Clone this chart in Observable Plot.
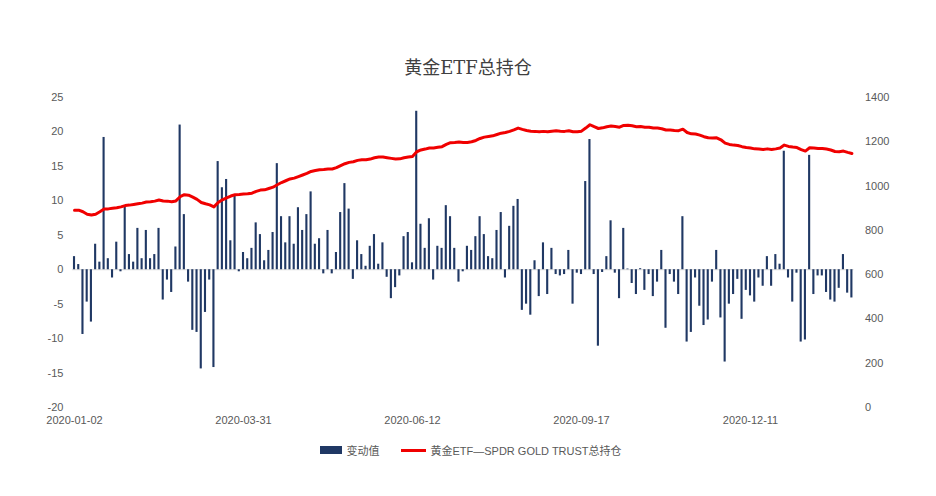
<!DOCTYPE html>
<html>
<head>
<meta charset="utf-8">
<script src="https://cdn.jsdelivr.net/npm/d3@7"></script>
<script src="https://cdn.jsdelivr.net/npm/@observablehq/plot@0.6"></script>
<style>
  body { margin: 0; background: #fff; width: 936px; height: 496px; overflow: hidden;
         font-family: "Liberation Sans", "Noto Sans CJK SC", sans-serif; }
  #title { height: 80px; box-sizing: border-box; padding-top: 56px; text-align: center;
           font-size: 18px; line-height: 24px; color: #404040;
           font-family: "DejaVu Serif", "Noto Sans CJK SC", serif; }
  #chart svg { display: block; }
  #legend { height: 20px; display: flex; justify-content: center; align-items: center;
            font-size: 11px; color: #595959; padding-left: 6px; }
  .sw { display: inline-block; margin-right: 4px; }
  .item { display: flex; align-items: center; }
</style>
</head>
<body>
<div id="title">黄金ETF总持仓</div>
<div id="chart"></div>
<div id="legend">
  <div class="item"><span class="sw" style="width:22px;height:8px;background:#203864"></span><span>变动值</span></div>
  <div class="item" style="margin-left:22px"><span class="sw" style="width:25px;height:3px;background:#F00000"></span><span>黄金ETF—SPDR GOLD TRUST总持仓</span></div>
</div>
<script>
// Daily change (left axis)
const changes = [
  1.9, 0.75, -9.4, -4.7, -7.6, 3.7, 1.1, 19.2, 1.6, -1.2,
  4.0, -0.3, 9.2, 2.2, 1.1, 6.0, 1.6, 5.7, 1.6, 2.2,
  6.0, -4.4, -1.5, -3.3, 3.3, 21.0, 8.0, -1.8, -8.8, -9.1,
  -14.4, -6.2, -1.5, -14.2, 15.7, 11.9, 13.1, 4.2, 10.8, -0.3,
  2.5, 1.6, 3.1, 6.8, 5.1, 1.3, 2.8, 5.4, 15.4, 7.7,
  3.9, 7.7, 3.7, 9.0, 5.7, 8.0, 11.3, 3.7, 4.5, -0.6,
  5.7, -0.6, 2.5, 8.3, 12.5, 8.8, -1.4, 4.2, 2.2, 0.5,
  3.4, 5.1, 0.8, 3.9, -1.1, -4.2, -2.6, -0.9, 4.8, 5.4,
  1.0, 23.0, 6.6, 3.1, 7.4, -1.5, 3.4, 3.1, 9.3, 7.7,
  3.1, -1.8, -0.3, 3.4, 2.8, 4.8, 7.7, 5.1, 1.9, 1.6,
  5.7, 8.3, -1.2, 6.3, 9.2, 10.2, -5.9, -5.0, -6.6, 1.3,
  -3.9, 3.9, -3.6, 3.1, -0.7, -0.9, -0.7, 2.8, -5.0, -0.5,
  -0.7, 12.8, 18.9, -0.7, -11.1, -0.4, 1.9, 7.1, -0.5, -4.2,
  6.0, 0.1, -2.0, -3.6, 0.15, -3.0, -0.7, -3.9, -1.8, 2.8,
  -8.5, -0.7, -1.8, -3.6, 7.7, -10.5, -9.1, -1.2, -5.3, -8.1,
  -7.3, -1.8, 2.8, -7.0, -13.4, -5.0, -3.6, -1.4, -7.2, -3.0,
  -3.8, -4.7, -1.2, -2.4, 1.9, -2.4, 2.2, 0.8, 17.2, -1.2,
  -4.7, -0.5, -10.5, -10.2, 16.6, -3.6, -0.9, -0.9, -3.3, -4.4,
  -4.7, -2.7, 2.2, -3.4, -4.1
];
// Total holdings (right axis)
const holdings = [
  891, 891, 884, 873, 869, 873, 884, 896, 897, 900,
  902, 906, 912, 914, 917, 920, 923, 928, 929, 932,
  937, 933, 932, 929, 933, 952, 961, 959, 950, 940,
  926, 920, 915, 906, 926, 938, 947, 955, 961, 962,
  964, 965, 968, 976, 982, 983, 989, 995, 1006, 1016,
  1024, 1032, 1036, 1043, 1050, 1057, 1066, 1070, 1074, 1075,
  1077, 1077, 1083, 1092, 1101, 1107, 1110, 1116, 1119, 1119,
  1122, 1128, 1131, 1131, 1128, 1125, 1122, 1123, 1128, 1131,
  1134, 1155, 1163, 1167, 1172, 1172, 1175, 1178, 1188, 1196,
  1197, 1199, 1197, 1197, 1200, 1206, 1215, 1221, 1224, 1227,
  1233, 1239, 1242, 1247, 1254, 1262, 1256, 1251, 1248, 1247,
  1245, 1247, 1245, 1248, 1250, 1248, 1247, 1250, 1245, 1245,
  1248, 1262, 1277, 1268, 1260, 1263, 1268, 1271, 1269, 1266,
  1274, 1275, 1272, 1268, 1269, 1266, 1266, 1262, 1262, 1259,
  1253, 1253, 1251, 1250, 1257, 1242, 1236, 1235, 1230, 1223,
  1218, 1217, 1218, 1209, 1194, 1188, 1185, 1183, 1178, 1174,
  1172, 1168, 1167, 1165, 1168, 1165, 1168, 1172, 1185, 1179,
  1176, 1174, 1165, 1158, 1173, 1172, 1170, 1170, 1167, 1163,
  1156, 1155, 1158, 1152, 1147
];
const xTickPos = [0, 40, 80, 120, 160];
const xTickLabels = ["2020-01-02", "2020-03-31", "2020-06-12", "2020-09-17", "2020-12-11"];
const leftTicks = [-20, -15, -10, -5, 0, 5, 10, 15, 20, 25];
const rightTicks = [0, 200, 400, 600, 800, 1000, 1200, 1400];
const leftDomain = [-20, 25];
const rightDomain = [0, 1400];

// map right-axis values onto the shared y scale
const toLeft = v => leftDomain[0] + (v - rightDomain[0]) * (leftDomain[1] - leftDomain[0]) / (rightDomain[1] - rightDomain[0]);
const toRight = y => rightDomain[0] + (y - leftDomain[0]) * (rightDomain[1] - rightDomain[0]) / (leftDomain[1] - leftDomain[0]);

const idx = changes.map((_, i) => i);
const data = idx.map(i => ({i, change: changes[i], hold: holdings[i]}));

const chart = Plot.plot({
  width: 936,
  height: 360,
  marginTop: 17,
  marginBottom: 33,
  marginLeft: 71.9,
  marginRight: 82.5,
  style: {fontSize: "11px", fontFamily: "Liberation Sans, Noto Sans CJK SC, sans-serif", color: "#595959", background: "#fff"},
  x: {type: "band", domain: idx, paddingInner: 0.5, paddingOuter: 0.25, axis: null, label: null},
  y: {domain: leftDomain, axis: null, label: null},
  marks: [
    Plot.ruleY([0], {stroke: "#d9d9d9", strokeWidth: 1}),
    Plot.barY(data, {x: "i", y: "change", fill: "#203864"}),
    Plot.line(data, {x: "i", y: d => toLeft(d.hold), stroke: "#F00000", strokeWidth: 3, curve: "linear"}),
    Plot.axisY(leftTicks, {anchor: "left", label: null, tickSize: 0, tickPadding: 9, tickFormat: d => String(d)}),
    Plot.axisY(rightTicks.map(toLeft), {anchor: "right", label: null, tickSize: 0, tickPadding: 11, tickFormat: d => String(Math.round(toRight(d)))}),
    Plot.axisX(xTickPos, {anchor: "bottom", label: null, tickSize: 0, tickPadding: 9, tickFormat: d => xTickLabels[xTickPos.indexOf(d)]})
  ]
});
document.getElementById("chart").appendChild(chart);
</script>
</body>
</html>
